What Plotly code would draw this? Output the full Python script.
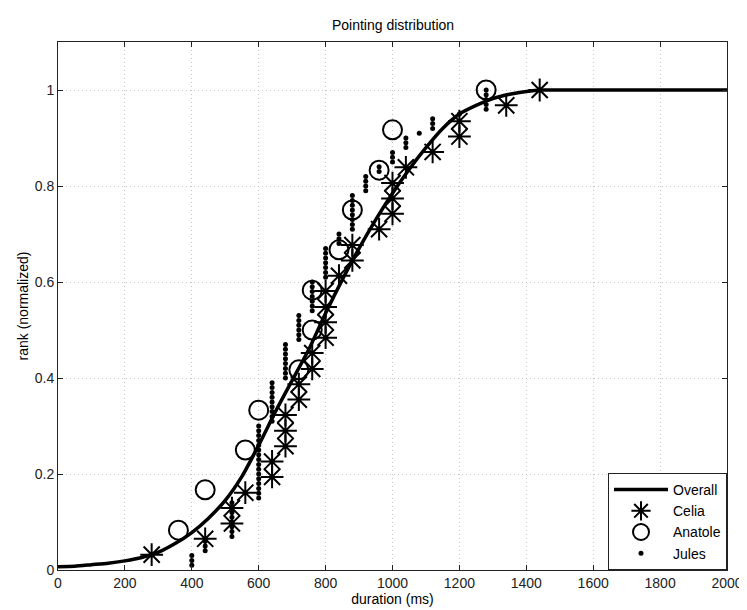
import plotly.graph_objects as go

# Overall fitted distribution
overall_x = [0, 50, 100, 150, 200, 250, 300, 350, 400, 450, 500, 550, 600, 650, 700,
             750, 800, 850, 900, 950, 1000, 1050, 1100, 1150, 1200, 1250, 1300, 1350,
             1400, 1450, 1500, 2000]
overall_y = [0.007, 0.008, 0.011, 0.014, 0.019, 0.026, 0.037, 0.055, 0.078, 0.108, 0.145,
             0.195, 0.26, 0.33, 0.395, 0.46, 0.535, 0.605, 0.67, 0.73, 0.785, 0.835, 0.88,
             0.92, 0.95, 0.968, 0.982, 0.991, 0.997, 1.0, 1.0, 1.0]

# Celia (asterisks)
celia_x = [280, 440, 520, 520, 560, 640, 640, 680, 680, 680, 720, 720, 760, 760, 800, 800,
           800, 800, 840, 880, 880, 960, 1000, 1000, 1000, 1040, 1120, 1200, 1200, 1340, 1440]
celia_y = [0.032, 0.065, 0.097, 0.129, 0.161, 0.194, 0.226, 0.258, 0.290, 0.323, 0.355,
           0.387, 0.419, 0.452, 0.484, 0.516, 0.548, 0.581, 0.613, 0.645, 0.677, 0.710,
           0.742, 0.774, 0.806, 0.839, 0.871, 0.903, 0.935, 0.968, 1.0]

# Anatole (open circles)
anatole_x = [360, 440, 560, 600, 720, 760, 760, 840, 880, 960, 1000, 1280]
anatole_y = [0.083, 0.167, 0.25, 0.333, 0.417, 0.5, 0.583, 0.667, 0.75, 0.833, 0.917, 1.0]

# Jules (dots)
jules_x = [400, 400, 400,
           440, 440, 440,
           520, 520, 520, 520, 520, 520, 520, 520,
           600, 600, 600, 600, 600, 600, 600, 600, 600, 600, 600, 600, 600, 600, 600, 600,
           640, 640, 640, 640, 640, 640, 640, 640, 640,
           680, 680, 680, 680, 680, 680, 680, 680,
           720, 720, 720, 720, 720, 720,
           760, 760, 760, 760, 760, 760, 760,
           800, 800, 800, 800, 800, 800, 800,
           840, 840, 840,
           880, 880, 880, 880, 880, 880, 880, 880,
           920, 920, 920, 920,
           960, 960,
           1000, 1000, 1000,
           1040, 1040, 1040,
           1080,
           1120, 1120, 1120,
           1200,
           1280, 1280, 1280, 1280, 1280]
jules_y = [0.01, 0.02, 0.03,
           0.04, 0.05, 0.06,
           0.07, 0.08, 0.09, 0.10, 0.11, 0.12, 0.13, 0.14,
           0.15, 0.16, 0.17, 0.18, 0.19, 0.20, 0.21, 0.22, 0.23, 0.24, 0.25, 0.26, 0.27, 0.28, 0.29, 0.30,
           0.31, 0.32, 0.33, 0.34, 0.35, 0.36, 0.37, 0.38, 0.39,
           0.40, 0.41, 0.42, 0.43, 0.44, 0.45, 0.46, 0.47,
           0.48, 0.49, 0.50, 0.51, 0.52, 0.53,
           0.54, 0.55, 0.56, 0.57, 0.58, 0.59, 0.60,
           0.61, 0.62, 0.63, 0.64, 0.65, 0.66, 0.67,
           0.68, 0.69, 0.70,
           0.71, 0.72, 0.73, 0.74, 0.75, 0.76, 0.77, 0.78,
           0.79, 0.80, 0.81, 0.82,
           0.83, 0.84,
           0.85, 0.86, 0.87,
           0.88, 0.89, 0.90,
           0.91,
           0.92, 0.93, 0.94,
           0.95,
           0.96, 0.97, 0.98, 0.99, 1.00]

x_ticks = [0, 200, 400, 600, 800, 1000, 1200, 1400, 1600, 1800, 2000]
y_ticks = [0, 0.2, 0.4, 0.6, 0.8, 1]
y_tick_text = ["0", "0.2", "0.4", "0.6", "0.8", "1"]

FONT = "Liberation Sans, Arial, sans-serif"

fig = go.Figure()
fig.add_trace(go.Scatter(x=overall_x, y=overall_y, mode="lines", name="Overall",
                         line=dict(color="black", width=3.5, shape="spline", smoothing=0.6)))
fig.add_trace(go.Scatter(x=celia_x, y=celia_y, mode="markers", name="Celia",
                         marker=dict(symbol="asterisk-open", size=19, color="black",
                                     line=dict(color="black", width=2))))
fig.add_trace(go.Scatter(x=anatole_x, y=anatole_y, mode="markers", name="Anatole",
                         marker=dict(symbol="circle-open", size=19, color="black",
                                     line=dict(color="black", width=2))))
fig.add_trace(go.Scatter(x=jules_x, y=jules_y, mode="markers", name="Jules",
                         marker=dict(symbol="circle", size=5, color="black")))

axis_common = dict(showline=True, linecolor="#222222", linewidth=1, mirror="ticks",
                   ticks="inside", ticklen=5, tickcolor="#222222", automargin=False,
                   showgrid=True, gridcolor="#c4c4c4", griddash="1px,3px", gridwidth=1,
                   zeroline=False, tickfont=dict(family=FONT, size=14, color="#222222"))

# the page body adds an 8px offset, so margins are shifted to compensate
fig.update_layout(
    width=747, height=602,
    margin=dict(l=50, r=28, t=34, b=40, autoexpand=False),
    paper_bgcolor="white", plot_bgcolor="white",
    font=dict(family=FONT, color="black"),
    title=dict(text="Pointing distribution", x=385 / 747, xanchor="center",
               y=1 - 17 / 602, yanchor="middle", yref="container",
               font=dict(family=FONT, size=14, color="black")),
    xaxis=dict(range=[0, 2000], tickvals=x_ticks, ticklabeloverflow="allow",
               title=dict(text="duration (ms)", font=dict(family=FONT, size=14), standoff=0),
               **axis_common),
    yaxis=dict(range=[0, 1.1], tickvals=y_ticks, ticktext=y_tick_text,
               title=dict(text="rank (normalized)", font=dict(family=FONT, size=14), standoff=2),
               **axis_common),
    legend=dict(x=1, y=0, xanchor="right", yanchor="bottom",
                bgcolor="white", bordercolor="#222222", borderwidth=1,
                font=dict(family=FONT, size=14, color="black"),
                itemwidth=54),
    showlegend=True,
)

fig.write_html("out.html")
